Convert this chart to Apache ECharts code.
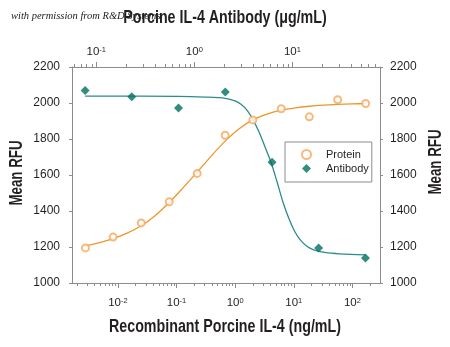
<!DOCTYPE html>
<html>
<head>
<meta charset="utf-8">
<script src="https://cdn.jsdelivr.net/npm/echarts@6/dist/echarts.min.js"></script>
<style>html,body{margin:0;padding:0;background:#fff;}#c{width:450px;height:347px;}</style>
</head>
<body>
<div id="c"></div>
<script>
// ---- data ----
const proteinDose = [0.0028, 0.0083, 0.025, 0.075, 0.225, 0.675, 2.0, 6.1, 18.4, 56, 168];
const proteinRFU  = [1195, 1255, 1334, 1451, 1609, 1821, 1906, 1968, 1923, 2018, 1997];
const proteinFitDose = [0.0028, 0.0048, 0.0083, 0.0144, 0.025, 0.043, 0.075, 0.13, 0.225, 0.39, 0.675, 1.17, 2.0, 3.5, 6.1, 10.6, 18.4, 32, 56, 97, 168];
const proteinFitRFU  = [1205, 1224, 1247, 1277, 1318, 1374, 1447, 1530, 1616, 1705, 1788, 1857, 1906, 1938, 1960, 1973, 1982, 1988, 1992, 1995, 1997];

const antibodyDose = [0.077, 0.23, 0.69, 2.07, 6.2, 18.5, 55.6];
const antibodyRFU  = [2070, 2035, 1972, 2061, 1671, 1195, 1139];
const antibodyFitDose = [0.077, 0.69, 1.285, 2.07, 2.6, 2.99, 3.44, 3.96, 4.56, 5.25, 6.04, 6.95, 8.01, 9.21, 10.6, 12.2, 14.05, 16.2, 21.4, 30.5, 55.6];
const antibodyFitRFU  = [2038, 2037, 2033, 2026, 2012, 1993, 1960, 1908, 1840, 1757, 1672, 1565, 1450, 1358, 1285, 1235, 1204, 1186, 1170, 1162, 1156];

const bottomMajorTicks = [0.01, 0.1, 1, 10, 100];
const topMajorTicks = [0.1, 1, 10];

const bottomTitle = 'Recombinant Porcine IL-4 (ng/mL)';
const topTitle = 'Porcine IL-4 Antibody (\u03bcg/mL)';
const yTitle = 'Mean RFU';
const credit = 'with permission from R&D Systems';

const bottomRange = [0.00165, 295];
const topRange = [0.0566, 78.2];

function minorTicks(range) {
  const out = [];
  for (let e = -4; e <= 3; e++) {
    for (let k = 2; k <= 9; k++) {
      const v = k * Math.pow(10, e);
      if (v > range[0] && v < range[1]) out.push(v);
    }
  }
  return out;
}

const FONT = "'Liberation Sans', Arial, sans-serif";
const TXT = '#231f20';
const AX = '#8c8c8c';

const supLabel = {
  color: TXT,
  formatter: v => '{b|10}{s|' + Math.round(Math.log10(v)) + '}',
  rich: {
    b: { fontFamily: FONT, fontSize: 11.5, color: TXT },
    s: { fontFamily: FONT, fontSize: 7.5, color: TXT, verticalAlign: 'top', padding: [0, 0, 4, 0] }
  }
};

function logAxis(pos, range, major, margin) {
  return [
    {
      type: 'log', logBase: 10, position: pos, min: range[0], max: range[1],
      axisLine: { show: true, lineStyle: { color: AX, width: 1 } },
      axisTick: { show: true, inside: false, length: 5, lineStyle: { color: AX }, customValues: major },
      axisLabel: Object.assign({ show: true, margin: margin, customValues: major }, supLabel),
      splitLine: { show: false }, minorTick: { show: false }
    },
    {
      type: 'log', logBase: 10, position: pos, min: range[0], max: range[1],
      axisLine: { show: false },
      axisTick: { show: true, inside: false, length: 3, lineStyle: { color: AX }, customValues: minorTicks(range) },
      axisLabel: { show: false },
      splitLine: { show: false }
    }
  ];
}

const xAxes = [].concat(
  logAxis('bottom', bottomRange, bottomMajorTicks, 14),
  logAxis('top', topRange, topMajorTicks, 9)
);

function yAxis(pos, margin) {
  return {
    type: 'value', position: pos, min: 1000, max: 2200, interval: 200,
    axisLine: { show: true, lineStyle: { color: AX } },
    axisTick: { show: true, length: 3, lineStyle: { color: AX } },
    axisLabel: { fontFamily: FONT, fontSize: 12, color: TXT, margin: margin, formatter: v => String(v) },
    splitLine: { show: false }
  };
}

const titleFont = 'bold 19px ' + FONT;
function titleText(text, x, y, rot, sx) {
  return {
    type: 'text', x: x, y: y, rotation: rot || 0, scaleX: sx, z: 10,
    style: { text: text, font: titleFont, fill: TXT, align: 'center', verticalAlign: 'middle' }
  };
}

const chart = echarts.init(document.getElementById('c'), null, { renderer: 'canvas' });
chart.setOption({
  animation: false,
  backgroundColor: '#fff',
  graphic: [
    {
      type: 'text', x: 11, y: 16, z: 1,
      style: { text: credit, font: 'italic 10.5px "Liberation Serif", "DejaVu Serif", serif', fill: '#222', verticalAlign: 'middle' }
    },
    titleText(topTitle, 225, 18, 0, 0.75),
    titleText(bottomTitle, 225, 327, 0, 0.75),
    titleText(yTitle, 17, 173, Math.PI / 2, 0.7),
    titleText(yTitle, 436, 162, Math.PI / 2, 0.7)
  ],
  grid: { left: 72, right: 70, top: 67, bottom: 64, containLabel: false, outerBoundsMode: 'none' },
  legend: {
    data: ['Protein', 'Antibody'], orient: 'vertical', left: 285, top: 142,
    itemWidth: 9, itemHeight: 9, itemGap: 3,
    padding: [7, 3, 8, 16],
    borderColor: '#8c8c8c', borderWidth: 1, backgroundColor: '#fff',
    textStyle: { fontFamily: FONT, fontSize: 11, color: TXT, padding: [0, 0, 0, 10] }
  },
  xAxis: xAxes,
  yAxis: [yAxis('left', 12), yAxis('right', 10)],
  series: [
    {
      name: 'ProteinFit', type: 'line', xAxisIndex: 0, yAxisIndex: 0,
      data: proteinFitDose.map((d, i) => [d, proteinFitRFU[i]]),
      showSymbol: false, smooth: 0.3,
      lineStyle: { color: '#f0962a', width: 1.3 }, z: 2
    },
    {
      name: 'AntibodyFit', type: 'line', xAxisIndex: 2, yAxisIndex: 0,
      data: antibodyFitDose.map((d, i) => [d, antibodyFitRFU[i]]),
      showSymbol: false, smooth: 0.3,
      lineStyle: { color: '#2b8c8a', width: 1.3 }, z: 2
    },
    {
      name: 'Protein', type: 'scatter', xAxisIndex: 0, yAxisIndex: 0,
      data: proteinDose.map((d, i) => [d, proteinRFU[i]]),
      symbol: 'emptyCircle', symbolSize: 7,
      itemStyle: { color: '#f5a85e', borderColor: '#f5a85e', borderWidth: 1 }, z: 3
    },
    {
      name: 'Antibody', type: 'scatter', xAxisIndex: 2, yAxisIndex: 0,
      data: antibodyDose.map((d, i) => [d, antibodyRFU[i]]),
      symbol: 'diamond', symbolSize: 9,
      itemStyle: { color: '#00705e' }, z: 3
    }
  ]
});
</script>
</body>
</html>
